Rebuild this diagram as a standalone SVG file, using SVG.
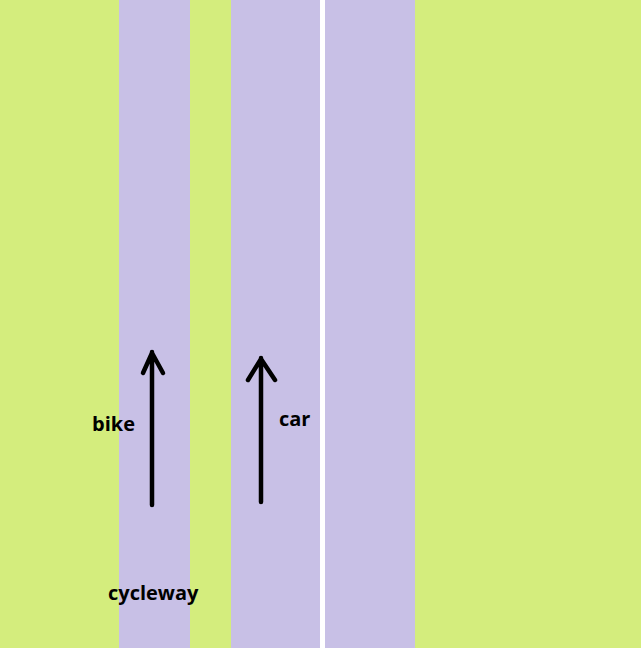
<svg xmlns="http://www.w3.org/2000/svg" width="641" height="648" viewBox="0 0 641 648">
<style>
.g{fill:#d4ed7d}.p{fill:#c8c0e6}
.t{font-family:"Open Sans","Noto Sans",sans-serif;font-weight:bold;font-size:20px;fill:#000}
.a{stroke:#000;stroke-width:4.5;fill:none;stroke-linecap:round;stroke-linejoin:round}
</style>
<g id="ground">
<rect class="g" x="0" y="0" width="641" height="648"/>
<rect class="p" x="119" y="0" width="71" height="648"/>
<rect class="p" x="231" y="0" width="89" height="648"/>
<rect fill="#ffffff" x="320" y="0" width="5" height="648"/>
<rect class="p" x="325" y="0" width="90" height="648"/>
</g>
<g id="connectors">
<path class="a" d="M152 505V352M143 373L152 353L163 373"/>
<path class="a" d="M261 502V358M248 380L261 359L275 380"/>
</g>
<g id="labels">
<text class="t" x="92" y="431">bike</text>
<text class="t" x="279" y="426">car</text>
<text class="t" x="108" y="600">cycleway</text>
</g>
</svg>
